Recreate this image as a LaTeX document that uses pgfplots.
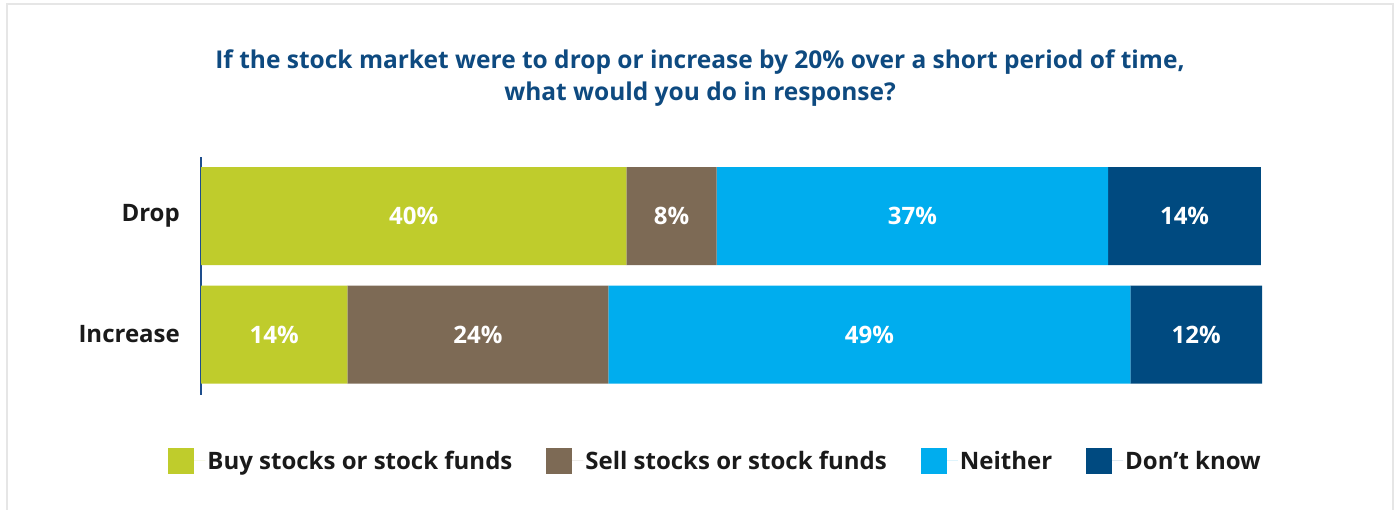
\documentclass[border=0pt]{standalone}
\usepackage{fontspec}
\setmainfont{Open Sans}
\usepackage{pgfplots}
\pgfplotsset{compat=1.18}
\definecolor{cbuy}{HTML}{BFCC2C}
\definecolor{csell}{HTML}{7D6A55}
\definecolor{cneither}{HTML}{00ADEE}
\definecolor{cdk}{HTML}{004A80}
\definecolor{titleblue}{HTML}{0E4A80}
\definecolor{axisblue}{HTML}{1E4E8C}
\definecolor{framegray}{HTML}{E6E6E6}
\definecolor{labtext}{HTML}{1A1A1A}
\newcommand\labfont{\fontsize{24bp}{28bp}\selectfont\bfseries}
\newcommand\valfont{\fontsize{24bp}{28bp}\selectfont\bfseries}

\begin{document}
\begin{tikzpicture}[x=1bp,y=1bp]
\useasboundingbox (0,0) rectangle (1400,510);
\fill[white] (0,0) rectangle (1400,510);
\draw[framegray, line width=2.5bp] (7,-10) -- (7,506) -- (1393,506) -- (1393,-10);

\node[anchor=base, text=titleblue, font=\fontsize{24.5bp}{30bp}\selectfont\bfseries]
  at (700,441) {If the stock market were to drop or increase by 20\% over a short period of time,};
\node[anchor=base, text=titleblue, font=\fontsize{24.5bp}{30bp}\selectfont\bfseries]
  at (700,409) {what would you do in response?};

\begin{axis}[
  at={(201bp,115bp)}, anchor=south west,
  scale only axis, width=1061bp, height=238bp,
  xbar stacked, bar width=98bp,
  xmin=0, xmax=100, ymin=-0.51, ymax=1.498,
  axis x line=none, axis y line*=left,
  y axis line style={draw=axisblue, line width=2bp, -},
  ytick={0,1}, yticklabels={Increase,Drop},
  major tick length=0pt,
  yticklabel style={font=\labfont, text=labtext, inner sep=0pt, xshift=-21bp},
  point meta=explicit symbolic,
  nodes near coords={\pgfplotspointmeta\%},
  every node near coord/.append style={font=\valfont, text=white},
  legend columns=4,
  legend style={at={(0.485,-0.277)}, anchor=center, draw=none, fill=none,
    font=\labfont, text=labtext,
    /tikz/every even column/.append style={column sep=32bp}},
  legend image code/.code={\fill[#1] (0bp,-13bp) rectangle (26bp,13bp);
    \path (0bp,0bp) -- (37bp,0bp);},
]
\addplot[fill=cbuy, draw=none] table[x=v, y=c, meta=l] {
v    c l
40.1 1 40
13.8 0 14
};
\addlegendentry{Buy stocks or stock funds}
\addplot[fill=csell, draw=none] table[x=v, y=c, meta=l] {
v    c l
8.5  1 8
24.6 0 24
};
\addlegendentry{Sell stocks or stock funds}
\addplot[fill=cneither, draw=none] table[x=v, y=c, meta=l] {
v    c l
36.9 1 37
49.2 0 49
};
\addlegendentry{Neither}
\addplot[fill=cdk, draw=none] table[x=v, y=c, meta=l] {
v    c l
14.4 1 14
12.4 0 12
};
\addlegendentry{Don’t know}
\end{axis}
\end{tikzpicture}
\end{document}
